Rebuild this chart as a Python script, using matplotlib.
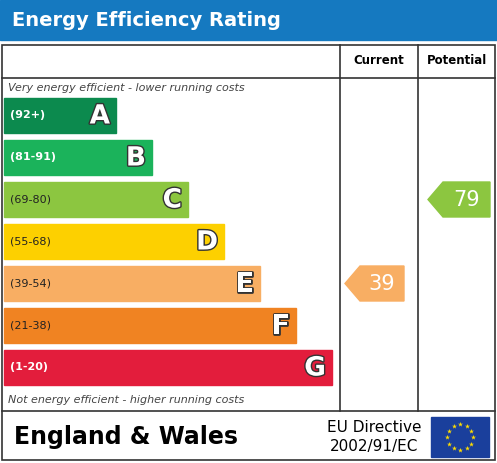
import matplotlib
matplotlib.use("Agg")
import matplotlib.pyplot as plt
from matplotlib.patches import Rectangle, Polygon
import numpy as np

letters = ["A", "B", "C", "D", "E", "F", "G"]
ranges = ["(92+)", "(81-91)", "(69-80)", "(55-68)", "(39-54)", "(21-38)", "(1-20)"]
lows = [92, 81, 69, 55, 39, 21, 1]
colors = ["#0c8a4e", "#1bb35b", "#8cc640", "#fdd000", "#f8ae63", "#f08322", "#e31d3c"]
current = 39
potential = 79

W, H = 497, 463
fig = plt.figure(figsize=(W/100, H/100), dpi=100)
ax = fig.add_axes([0, 0, 1, 1])
ax.set_xlim(0, W); ax.set_ylim(H, 0); ax.axis("off")

# title bar
ax.add_patch(Rectangle((0, 0), W, 40, color="#1579c0"))
ax.text(12, 20, "Energy Efficiency Rating", color="white", fontsize=14, fontweight="bold", va="center")

lw = 1.2
ax.add_patch(Rectangle((2, 45), W-4, H-48, fill=False, ec="#333", lw=lw))
ax.plot([2, 495], [78, 78], color="#333", lw=lw)
ax.plot([2, 495], [411, 411], color="#333", lw=lw)
ax.plot([340, 340], [45, 411], color="#333", lw=lw)
ax.plot([418, 418], [45, 411], color="#333", lw=lw)
ax.text(379, 61, "Current", fontsize=8.5, fontweight="bold", ha="center", va="center")
ax.text(457, 61, "Potential", fontsize=8.5, fontweight="bold", ha="center", va="center")
ax.text(8, 88, "Very energy efficient - lower running costs", fontsize=8, style="italic", color="#444", va="center")
ax.text(8, 400, "Not energy efficient - higher running costs", fontsize=8, style="italic", color="#444", va="center")

y0, step, bh = 98, 42, 35
for i, (L, r, c) in enumerate(zip(letters, ranges, colors)):
    y = y0 + i*step
    right = 116 + i*36
    ax.add_patch(Rectangle((4, y), right-4, bh, color=c))
    tc = "white" if i in (0, 1, 6) else "#222"
    ax.text(10, y+bh/2, r, fontsize=8, color=tc, va="center", fontweight="bold" if tc=="white" else "normal")
    ax.text(right-6, y+bh/2+1, L, fontsize=19, color="white", ha="right", va="center",
            fontweight="bold", path_effects=[__import__("matplotlib.patheffects", fromlist=["x"]).withStroke(linewidth=2, foreground="#333")])

def band(v):
    for i, lo in enumerate(lows):
        if v >= lo:
            return i
    return 6

def arrow(v, x0, x1):
    i = band(v)
    y = y0 + i*step
    pts = [(x0, y+bh/2), (x0+15, y), (x1, y), (x1, y+bh), (x0+15, y+bh)]
    ax.add_patch(Polygon(pts, color=colors[i]))
    ax.text((x0+15+x1)/2, y+bh/2+1, str(v), fontsize=15, color="white", ha="center", va="center")

arrow(current, 345, 404)
arrow(potential, 428, 490)

ax.text(14, 437, "England & Wales", fontsize=17, fontweight="bold", va="center")
ax.text(374, 427, "EU Directive", fontsize=11, ha="center", va="center")
ax.text(374, 447, "2002/91/EC", fontsize=11, ha="center", va="center")
ax.add_patch(Rectangle((431, 417), 58, 40, color="#1a3f9c"))
t = np.linspace(0, 2*np.pi, 13)[:-1]
ax.scatter(460 + 13*np.cos(t), 437 + 13*np.sin(t), marker="*", s=14, color="#ffdd00", lw=0)

fig.savefig("out.png", dpi=100)
